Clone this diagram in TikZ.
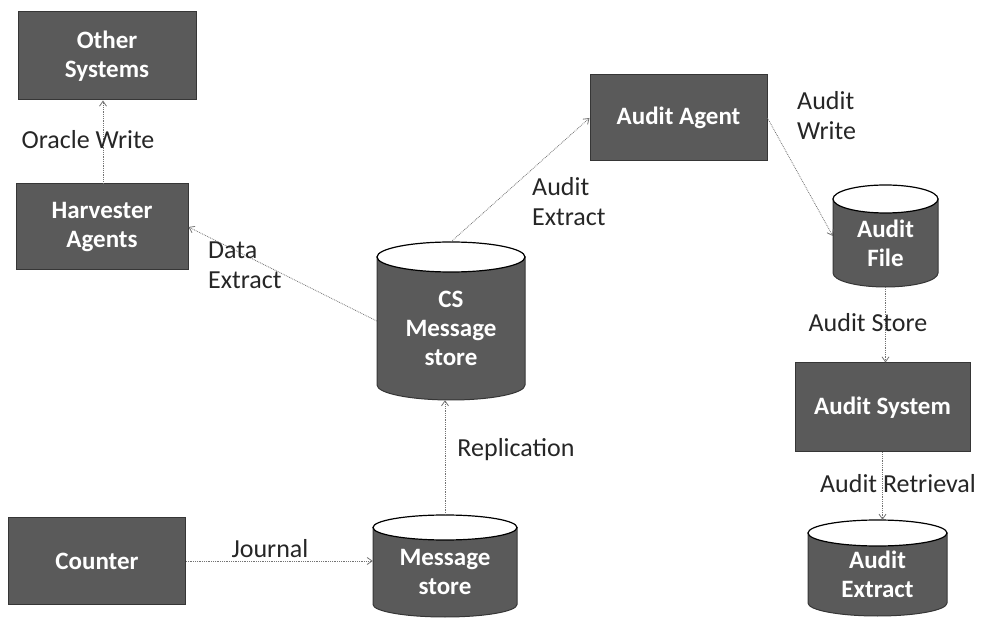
\documentclass[tikz,border=0pt]{standalone}
\usepackage{fontspec}
\setmainfont{Carlito}
\usetikzlibrary{arrows.meta,calc,fit}
\definecolor{boxfill}{HTML}{5A5A5A}
\definecolor{boxedge}{HTML}{363636}
\tikzset{
  procbox/.style={draw=boxedge, line width=1pt, fill=boxfill, text=white,
    font=\bfseries\fontsize{25}{29}\selectfont, align=center, inner sep=0pt},
  lbl/.style={font=\fontsize{26}{30}\selectfont, text=black!85, align=left, inner sep=0pt},
  flow/.style={draw=black!55, densely dotted, line width=0.8pt,
    -{Straight Barb[length=5pt,width=7pt]}},
  cyltext/.style={inner sep=0pt, text=white, font=\bfseries\fontsize{25}{29}\selectfont, align=center},
  cylbody/.style={fill=boxfill, draw=boxedge, line width=1pt},
  cyltop/.style={fill=white, draw=black, line width=1.2pt}
}
% #1 name, #2 x0, #3 x1, #4 ytop, #5 ybot, #6 ry, #7 text
\newcommand\dbcyl[7]{%
  \pgfmathsetmacro\cylcx{(#2+#3)/2}%
  \pgfmathsetmacro\cylrx{(#3-#2)/2}%
  \pgfmathsetmacro\cylty{(#4+#6+#5)/2}%
  \path[cylbody] ({#2},{#4+#6}) -- ({#2},{#5-#6})
     arc[start angle=180, end angle=0, x radius=\cylrx, y radius=#6]
     -- ({#3},{#4+#6}) -- cycle;
  \path[cyltop] (\cylcx,{#4+#6}) ellipse[x radius=\cylrx, y radius=#6];
  \node[fit={({#2},{#4}) ({#3},{#5})}, inner sep=0pt] (#1) {};
  \node[cyltext] (#1-text) at (\cylcx,\cylty) {#7};
}
\begin{document}
\begin{tikzpicture}[x=1pt, y=1pt, yscale=-1]
\useasboundingbox (0,0) rectangle (989,620);

% boxes
\node[procbox, minimum width=178pt, minimum height=88pt] (other) at (107,56) {Other\\Systems};
\node[procbox, minimum width=172pt, minimum height=86pt] (harv) at (102,227) {Harvester\\Agents};
\node[procbox, minimum width=177pt, minimum height=86pt] (agent) at (678.5,118) {Audit Agent};
\node[procbox, minimum width=175pt, minimum height=89pt] (asys) at (882.5,407.5) {Audit System};
\node[procbox, minimum width=177pt, minimum height=87pt] (counter) at (97,561) {Counter};

% cylinders
\dbcyl{cs}{377}{525}{242}{400}{15}{CS\\Message\\store}
\dbcyl{msg}{373}{517}{515}{617}{12.5}{Message\\store}
\dbcyl{afile}{833}{938}{185}{287}{14}{Audit\\File}
\dbcyl{aext}{808}{947}{520}{616}{13}{Audit\\Extract}

% connectors
\draw[flow] (harv.north -| 103,0) -- (other.south -| 103,0);
\draw[flow] (cs.west) -- (harv.east);
\draw[flow] (cs.north) -- (agent.west);
\draw[flow] (agent.east) -- (afile.west);
\draw[flow] (afile.south) -- (afile.south |- asys.north);
\draw[flow] (asys.south) -- (asys.south |- aext.north);
\draw[flow] (msg.north) -- (msg.north |- cs.south);
\draw[flow] (counter.east) -- (msg.west |- counter.east);

% labels
\node[lbl] (l-oracle) at (88,140) {Oracle Write};
\node[lbl, anchor=west] (l-data) at (208,265) {Data\\Extract};
\node[lbl, anchor=west] (l-aext) at (532,202) {Audit\\Extract};
\node[lbl, anchor=west] (l-awrite) at (797,116) {Audit\\Write};
\node[lbl] (l-astore) at (868,323) {Audit Store};
\node[lbl] (l-repl) at (516,450) {Replication};
\node[lbl] (l-aretr) at (898,484) {Audit Retrieval};
\node[lbl] (l-journal) at (270,549) {Journal};
\end{tikzpicture}
\end{document}
